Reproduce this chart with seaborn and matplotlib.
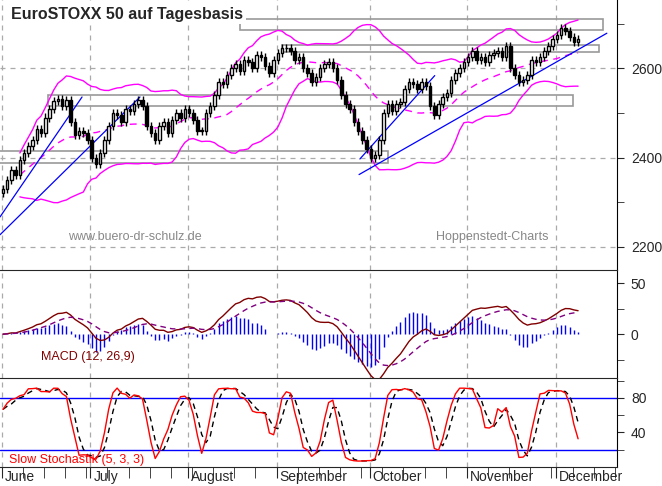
import numpy as np
import pandas as pd
import seaborn as sns
import matplotlib.pyplot as plt
from matplotlib.patches import Rectangle
from matplotlib.transforms import ScaledTranslation

# daily closes (June - early December)
closes = [2329,2350,2372,2360,2395,2410,2425,2440,2465,2455,2490,2510,2528,
          2532,2515,2530,2480,2450,2460,2455,2440,2400,2385,
          2410,2440,2470,2500,2495,2480,2510,2505,2520,2530,2515,
          2470,2455,2440,2470,2480,2455,2485,2500,2490,2510,2500,
          2485,2460,2460,2500,2515,2540,2570,2565,2585,2600,2610,
          2595,2620,2615,2600,2630,2625,2605,2590,2620,2635,2645,
          2645,2640,2620,2625,2600,2590,2570,2580,2600,2610,2615,
          2600,2575,2540,2520,2510,2480,2460,2440,2420,2400,2405,
          2440,2500,2520,2505,2520,2525,2555,2570,2565,2555,2570,
          2560,2515,2495,2520,2535,2545,2575,2590,2600,2615,2625,
          2640,2620,2625,2615,2630,2635,2640,2625,2650,2600,2585,
          2570,2575,2585,2620,2615,2625,2640,2650,2665,2675,2690,
          2685,2670,2660,2665]
first_open = 2320
wick = 9
months = ["June", "July", "August", "September", "October", "November", "December"]
month_start = [0, 21, 44, 65, 87, 110, 131]

# support / resistance zones: (day from, day to, low, high)
zones = [(10.6, 134.8, 2516, 2541), (-1, 91, 2388, 2415),
         (56, 142, 2686, 2711), (66, 141, 2638, 2652)]
# trend lines: (day0, price0, day1, price1)
trends = [(-0.7, 2267, 18.7, 2536), (-0.7, 2227, 32.4, 2536),
          (84.2, 2362, 142.8, 2679), (84.4, 2397, 102.1, 2584)]

df = pd.DataFrame({"day": np.arange(len(closes)), "close": closes})
df["open"] = df["close"].shift(1).fillna(first_open)
df["high"] = df[["open", "close"]].max(axis=1) + wick
df["low"] = df[["open", "close"]].min(axis=1) - wick
ma = df["close"].rolling(20, min_periods=5).mean()
sd = df["close"].rolling(20, min_periods=5).std()
df["mid"], df["up"], df["dn"] = ma, ma + 2 * sd, ma - 2 * sd
ema12 = df["close"].ewm(span=12).mean()
ema26 = df["close"].ewm(span=26).mean()
df["macd"] = ema12 - ema26
df["signal"] = df["macd"].ewm(span=9).mean()
df["hist"] = df["macd"] - df["signal"]
hh = df["high"].rolling(5, min_periods=1).max()
ll = df["low"].rolling(5, min_periods=1).min()
fastk = 100 * (df["close"] - ll) / (hh - ll)
df["k"] = fastk.rolling(3, min_periods=1).mean()
df["d"] = df["k"].rolling(3, min_periods=1).mean()

sns.set_style("white")
plt.rcParams["font.family"] = ["Liberation Sans", "DejaVu Sans"]
W, H = 662, 486
fig = plt.figure(figsize=(W / 100, H / 100), dpi=100)
def pax(x0, y0, x1, y1):
    return fig.add_axes([x0 / W, 1 - y1 / H, (x1 - x0) / W, (y1 - y0) / H])
ax1 = pax(0, -2, 617, 270)
ax2 = pax(0, 270, 617, 378)
ax3 = pax(0, 378, 617, 467)
xl = (-0.7, 145.2)
for ax in (ax1, ax2, ax3):
    ax.set_xlim(xl)
    for s in ("left", "top", "bottom"):
        ax.spines[s].set_visible(False)
    ax.spines["right"].set_color("black")
    ax.yaxis.tick_right()
    ax.tick_params(axis="y", direction="out", length=5, labelsize=10, pad=5, right=True)
    ax.tick_params(axis="y", which="minor", length=5, right=True)
    ax.set_xticks([])
    for m in month_start:
        ax.axvline(m - 0.3, color="#aaaaaa", ls=(0, (4, 4)), lw=0.9, zorder=0)
ax2.spines["top"].set_visible(True)
ax3.spines["top"].set_visible(True)
ax3.spines["bottom"].set_visible(True)

# price panel
ax1.set_ylim(2148, 2758)
ax1.set_yticks([2200, 2400, 2600])
ax1.set_yticks([2300, 2500, 2700], minor=True)
for v in (2200, 2400, 2600):
    ax1.axhline(v, color="#aaaaaa", ls=(0, (4, 4)), lw=0.9, zorder=0)
for d0, d1, lo, hi in zones:
    ax1.add_patch(Rectangle((d0, lo), d1 - d0, hi - lo, fill=False, ec="#999999", lw=1.2, zorder=1))
sns.lineplot(data=df, x="day", y="up", color="magenta", lw=1, ax=ax1)
sns.lineplot(data=df, x="day", y="dn", color="magenta", lw=1, ax=ax1)
sns.lineplot(data=df, x="day", y="mid", color="magenta", lw=1, ls=(0, (5, 4)), ax=ax1)
for d0, p0, d1, p1 in trends:
    ax1.plot([d0, d1], [p0, p1], color="blue", lw=0.9, zorder=2)
ax1.vlines(df["day"], df["low"], df["high"], color="black", lw=1, zorder=3)
bull = df["close"] >= df["open"]
ax1.bar(df["day"][bull], (df["close"] - df["open"])[bull].clip(lower=1), bottom=df["open"][bull],
        width=0.6, color="white", edgecolor="black", lw=1, zorder=4)
ax1.bar(df["day"][~bull], (df["open"] - df["close"])[~bull], bottom=df["close"][~bull],
        width=0.6, color="black", edgecolor="black", lw=1, zorder=4)
ax1.text(2, 2712, "EuroSTOXX 50 auf Tagesbasis", fontsize=11.5, fontweight="bold",
         bbox=dict(fc="white", ec="none", pad=2), zorder=6)
ax1.text(15.5, 2215, "www.buero-dr-schulz.de", color="#888888", fontsize=9)
ax1.text(102.5, 2215, "Hoppenstedt-Charts", color="#888888", fontsize=9)
ax1.set_xlabel(""); ax1.set_ylabel("")

# MACD panel
ax2.set_ylim(-43, 63)
ax2.set_yticks([0, 50])
ax2.set_yticks([-25, 25], minor=True)
ax2.vlines(df["day"], 0, df["hist"] * 1.5, color="blue", lw=1)
sns.lineplot(data=df, x="day", y="macd", color="#800000", lw=1, ax=ax2)
sns.lineplot(data=df, x="day", y="signal", color="#800080", lw=1, ls=(0, (4, 3)), ax=ax2)
ax2.text(9, -25, "MACD (12, 26,9)", color="#800000", fontsize=9)
ax2.set_xlabel(""); ax2.set_ylabel("")

# Stochastic panel
ax3.set_ylim(0, 103)
ax3.set_yticks([40, 80])
ax3.set_yticks([20, 60, 100], minor=True)
for v in (80, 20):
    ax3.axhline(v, color="blue", lw=1)
sns.lineplot(data=df, x="day", y="d", color="black", lw=1, ls=(0, (4, 3)), ax=ax3)
sns.lineplot(data=df, x="day", y="k", color="red", lw=1, ax=ax3)
ax3.text(1.5, 5, "Slow Stochastik (5, 3, 3)", color="red", fontsize=9)
ax3.set_xlabel(""); ax3.set_ylabel("")
ax3.set_xticks([m - 0.3 for m in month_start])
ax3.set_xticks(np.arange(-0.3, 145, 5), minor=True)
ax3.set_xticklabels(months, ha="left", fontsize=10)
ax3.tick_params(axis="x", which="both", direction="out", length=8, pad=-6, bottom=True)
for lab in ax3.get_xticklabels():
    lab.set_transform(lab.get_transform() + ScaledTranslation(0.03, 0, fig.dpi_scale_trans))

fig.savefig("out.png", dpi=100)
